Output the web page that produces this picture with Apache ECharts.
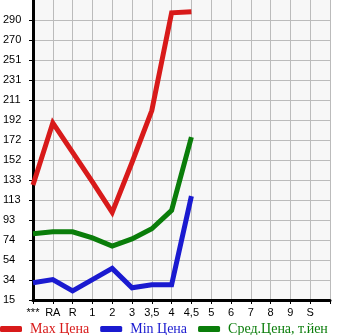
<!DOCTYPE html>
<html><head><meta charset="utf-8">
<script src="https://cdn.jsdelivr.net/npm/echarts@6/dist/echarts.min.js"></script>
<style>html,body{margin:0;padding:0;background:#fff}#c{width:345px;height:335px}</style>
</head><body><div id="c"></div>
<script>
var categories = ['***','RA','R','1','2','3','3,5','4','4,5','5','6','7','8','9','S'];
var maxPrice = [128, 189, 160, 131, 101, 150, 201, 297, 298];
var minPrice = [32, 35, 24, 35, 46, 27, 30, 30, 117];
var avgPrice = [80, 82, 82, 76, 68, 75, 85, 103, 175];
var yLabels = ['15','34','54','74','93','113','133','152','172','192','211','231','251','270','290'];
var seriesNames = ['Max Цена','Min Цена','Сред.Цена, т.йен'];
var colors = ['#d81a1a','#1a1ad0','#0a7d0a'];

var yMin = parseFloat(yLabels[0]);
var yStep = (parseFloat(yLabels[yLabels.length-1]) - yMin) / (yLabels.length - 1);
var yTicks = yLabels.map(function(_, i){ return yMin + i * yStep; });
var yMax = yMin + yLabels.length * yStep;

var chart = echarts.init(document.getElementById('c'), null, {renderer:'canvas'});
var fontAxis = 'Liberation Sans';
chart.setOption({
  animation: false,
  backgroundColor: '#ffffff',
  grid: { left: 30, right: 15, top: 0, bottom: 35, show: true, backgroundColor: '#f7f7f7', borderWidth: 0 },
  xAxis: {
    type: 'category',
    boundaryGap: false,
    data: categories.concat(['']),
    axisLine: { show: true, lineStyle: { color: '#000', width: 3 } },
    axisTick: { show: true, length: 4, lineStyle: { color: '#000', width: 1 }, interval: 0 },
    axisLabel: { interval: 0, color: '#000', fontFamily: fontAxis, fontSize: 11, margin: 7 },
    splitLine: { show: true, interval: 0, lineStyle: { color: '#bbbbbb', width: 1 } }
  },
  yAxis: {
    type: 'value',
    min: yMin,
    max: yMax,
    axisLine: { show: true, lineStyle: { color: '#000', width: 3 } },
    axisTick: { show: true, length: 4, customValues: yTicks, lineStyle: { color: '#000', width: 1 } },
    axisLabel: {
      customValues: yTicks,
      color: '#000', fontFamily: fontAxis, fontSize: 11, align: 'left', margin: 30,
      padding: [0,0,6,0],
      formatter: function(v){
        var idx = Math.round((v - yMin) / yStep);
        return yLabels[idx] !== undefined ? yLabels[idx] : '';
      }
    },
    splitLine: { show: true, lineStyle: { color: '#bbbbbb', width: 1 } }
  },
  legend: {
    left: 0, top: 322, padding: 0,
    itemWidth: 22, itemHeight: 6, itemGap: 11,
    icon: 'roundRect',
    textStyle: { fontFamily: 'Liberation Serif', fontSize: 14, padding: [0,0,0,3] },
    data: seriesNames.map(function(n, i){ return { name: n, textStyle: { color: colors[i] } }; })
  },
  series: [maxPrice, minPrice, avgPrice].map(function(d, i){
    return {
      name: seriesNames[i], type: 'line', data: d, showSymbol: false, symbol: 'none',
      itemStyle: { color: colors[i] },
      lineStyle: { color: colors[i], width: 5, join: 'miter' },
      z: 3 - i
    };
  })
});
</script></body></html>
